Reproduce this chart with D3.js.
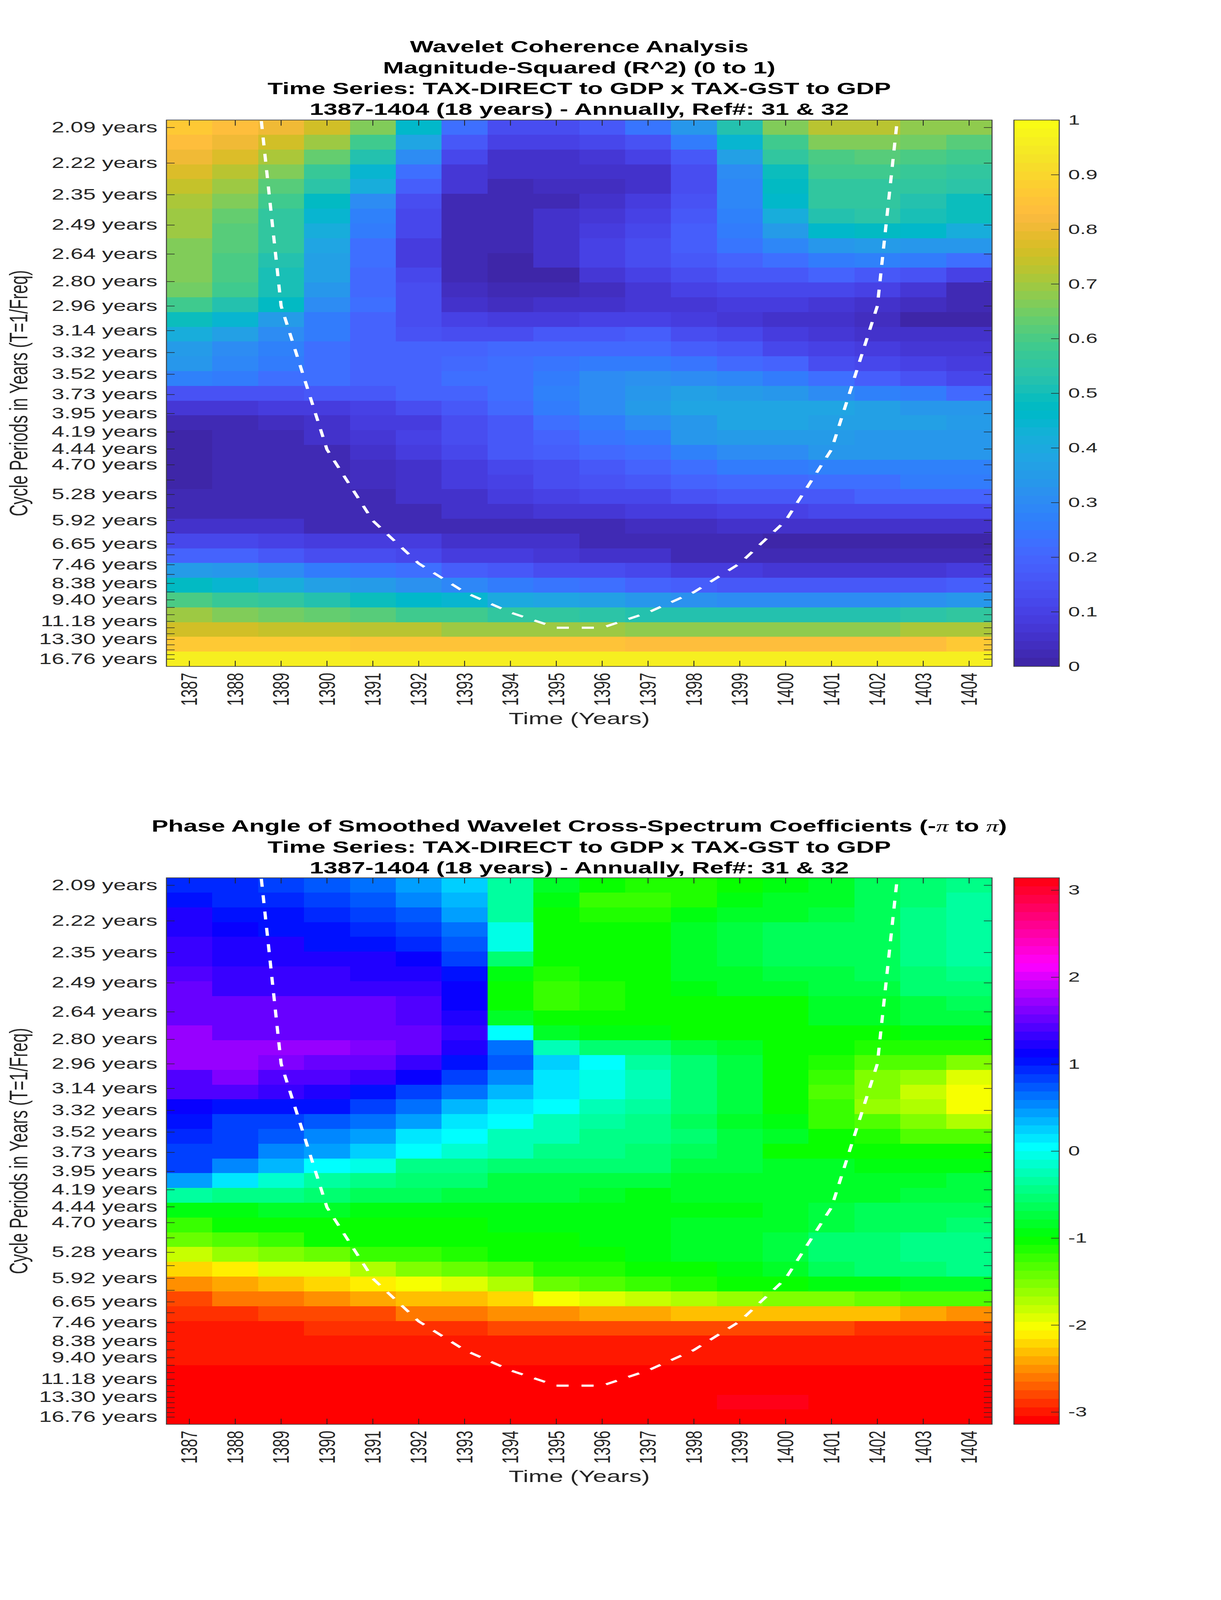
<!DOCTYPE html>
<html>
<head>
<meta charset="utf-8">
<script src="https://cdn.jsdelivr.net/npm/d3@7"></script>
<style>
  html, body { margin: 0; background: #fff; overflow: hidden; }
  /* viewBox fills the window: 1:1 at 3125x6252, vertically squashed in a shorter window so nothing is cut off */
  #chart { display: block; width: 100vw; height: 100vh; }
  text { font-family: "Liberation Sans", Arial, sans-serif; fill: #262626; }
  .title { font-weight: bold; font-size: 64px; fill: #000; text-anchor: middle; }
  .pi { font-family: "Liberation Serif", serif; font-style: italic; font-weight: normal; }
  .axislabel { font-size: 64px; text-anchor: middle; }
  .tick line, .domain { stroke: #262626; }
</style>
</head>
<body>
<svg id="chart" viewBox="0 0 3125 6252" preserveAspectRatio="none"></svg>
<script>
const years = d3.range(1387, 1405)

// one period per image row, blank label means tick only
const periods = [2.09, 2.22, 2.35, 2.49, 2.64, 2.80, 2.96, 3.14, 3.32, 3.52, 3.73, 3.95, 4.19, 4.44, 4.70, 4.98, 5.28, 5.59, 5.92, 6.27, 6.65, 7.05, 7.46, 7.91, 8.38, 8.88, 9.40, 9.96, 10.56, 11.18, 11.85, 12.55, 13.30, 14.09, 14.93, 15.82, 16.76]
const unlabeled = [4.98, 5.59, 6.27, 7.05, 7.91, 8.88, 9.96, 10.56, 11.85, 12.55, 14.09, 14.93, 15.82]

// cone of influence
const coiYears = [1388, 1389, 1390, 1391, 1392, 1393, 1394, 1395, 1396, 1397, 1398, 1399, 1400, 1401, 1402, 1403]
const coiPeriods = [1.48, 2.96, 4.45, 5.93, 7.41, 8.90, 10.38, 11.86, 11.86, 10.38, 8.90, 7.41, 5.93, 4.45, 2.96, 1.48]

const coherence = [
  [.86,.83,.80,.75,.67,.46,.22,.14,.14,.17,.24,.34,.52,.66,.72,.72,.68,.68],
  [.84,.81,.76,.70,.58,.38,.16,.10,.10,.12,.15,.25,.44,.59,.67,.66,.65,.62],
  [.80,.77,.71,.63,.53,.30,.11,.06,.06,.07,.10,.17,.36,.55,.60,.62,.60,.59],
  [.77,.73,.66,.57,.44,.22,.07,.05,.05,.05,.06,.14,.30,.49,.58,.59,.57,.56],
  [.74,.70,.62,.54,.42,.18,.07,.03,.04,.04,.06,.13,.29,.48,.56,.56,.55,.54],
  [.71,.66,.58,.47,.31,.14,.03,.02,.03,.06,.08,.15,.29,.46,.55,.55,.52,.49],
  [.70,.63,.56,.45,.27,.12,.03,.02,.05,.07,.10,.17,.28,.42,.52,.54,.51,.49],
  [.69,.62,.55,.42,.25,.11,.02,.02,.05,.09,.12,.18,.26,.35,.46,.47,.46,.42],
  [.67,.61,.55,.38,.23,.08,.02,.02,.06,.10,.13,.18,.24,.29,.34,.35,.34,.33],
  [.67,.60,.53,.37,.22,.09,.03,.01,.05,.10,.13,.17,.20,.22,.26,.27,.25,.22],
  [.67,.60,.50,.37,.21,.11,.02,.00,.01,.07,.10,.13,.16,.17,.19,.17,.15,.10],
  [.65,.58,.50,.34,.21,.13,.04,.02,.03,.04,.07,.10,.11,.12,.12,.10,.07,.03],
  [.59,.52,.47,.31,.22,.14,.06,.04,.05,.06,.07,.07,.08,.08,.07,.06,.04,.02],
  [.49,.45,.35,.26,.19,.14,.10,.09,.09,.10,.10,.08,.07,.05,.05,.04,.01,.01],
  [.42,.37,.30,.25,.19,.15,.13,.14,.16,.17,.18,.14,.11,.08,.07,.05,.05,.05],
  [.35,.30,.27,.22,.19,.19,.19,.21,.21,.21,.21,.18,.16,.12,.10,.08,.07,.07],
  [.33,.29,.25,.23,.20,.20,.21,.22,.24,.25,.26,.24,.21,.19,.14,.11,.10,.09],
  [.28,.25,.23,.22,.19,.20,.22,.23,.26,.30,.32,.31,.29,.25,.22,.18,.15,.11],
  [.15,.15,.15,.16,.16,.19,.20,.23,.27,.31,.34,.36,.35,.33,.31,.27,.25,.21],
  [.07,.07,.09,.09,.10,.14,.17,.21,.25,.30,.35,.38,.39,.39,.38,.36,.34,.33],
  [.02,.02,.04,.06,.08,.09,.14,.17,.23,.26,.30,.34,.38,.38,.37,.36,.36,.35],
  [.00,.02,.02,.05,.07,.10,.14,.16,.20,.24,.26,.33,.35,.35,.35,.34,.34,.34],
  [.00,.02,.02,.03,.05,.08,.12,.16,.18,.21,.22,.27,.30,.31,.33,.34,.33,.33],
  [.00,.02,.02,.03,.04,.06,.09,.11,.13,.16,.20,.22,.25,.26,.27,.27,.27,.27],
  [.00,.02,.02,.03,.04,.06,.08,.10,.13,.15,.17,.20,.21,.21,.22,.23,.25,.25],
  [.02,.02,.02,.03,.03,.05,.06,.09,.10,.11,.12,.15,.16,.17,.17,.19,.19,.19],
  [.02,.02,.02,.03,.03,.02,.05,.06,.07,.07,.08,.08,.10,.10,.12,.12,.12,.12],
  [.05,.05,.05,.03,.03,.03,.03,.03,.03,.03,.04,.04,.05,.05,.05,.05,.05,.05],
  [.12,.11,.10,.09,.08,.08,.05,.05,.05,.03,.03,.03,.03,.01,.01,.01,.01,.01],
  [.20,.19,.17,.14,.13,.11,.08,.08,.07,.05,.05,.03,.03,.02,.02,.02,.02,.02],
  [.35,.33,.31,.26,.24,.22,.18,.16,.14,.13,.11,.09,.08,.07,.07,.07,.07,.08],
  [.48,.44,.41,.37,.35,.32,.29,.26,.24,.23,.20,.18,.17,.16,.16,.16,.16,.18],
  [.60,.57,.55,.52,.49,.46,.44,.40,.38,.36,.34,.32,.31,.31,.31,.31,.32,.34],
  [.70,.67,.65,.63,.61,.59,.58,.56,.55,.54,.53,.53,.52,.52,.53,.53,.54,.55],
  [.76,.76,.74,.74,.72,.72,.70,.70,.69,.69,.68,.68,.68,.68,.68,.68,.71,.71],
  [.86,.86,.86,.86,.85,.85,.85,.85,.85,.85,.84,.84,.84,.84,.84,.84,.84,.86],
  [.96,.96,.96,.96,.96,.96,.96,.96,.96,.96,.96,.96,.96,.96,.96,.96,.96,.96]
]

const phase = [
  [.90,.92,.82,.72,.60,.42,.20,-.35,-.80,-1.0,-1.1,-1.1,-1.0,-.90,-.80,-.65,-.50,-.40],
  [1.05,.98,.95,.80,.70,.52,.30,-.30,-.90,-1.2,-1.2,-1.1,-.95,-.85,-.80,-.60,-.50,-.37],
  [1.2,1.05,1.02,.98,.82,.70,.45,-.30,-1.0,-1.15,-1.1,-.95,-.85,-.80,-.75,-.60,-.45,-.37],
  [1.2,1.15,1.05,1.05,.98,.82,.63,-.02,-1.0,-1.05,-1.0,-.85,-.75,-.65,-.65,-.60,-.45,-.37],
  [1.3,1.2,1.2,1.05,1.05,.95,.78,-.05,-1.05,-1.05,-1.05,-.80,-.70,-.65,-.65,-.60,-.45,-.37],
  [1.3,1.25,1.2,1.2,1.2,1.15,.85,-.50,-1.05,-1.05,-1.05,-.85,-.70,-.65,-.65,-.60,-.45,-.37],
  [1.4,1.3,1.3,1.3,1.25,1.25,1.05,-.95,-1.15,-1.05,-1.05,-.85,-.80,-.70,-.70,-.65,-.50,-.45],
  [1.5,1.35,1.35,1.35,1.35,1.35,1.1,-1.05,-1.2,-1.15,-1.05,-.90,-.85,-.80,-.75,-.70,-.55,-.50],
  [1.5,1.5,1.5,1.5,1.5,1.45,1.15,-1.05,-1.2,-1.15,-1.05,-1.0,-1.0,-1.0,-.85,-.80,-.70,-.65],
  [1.5,1.55,1.55,1.55,1.55,1.4,1.2,-.85,-1.05,-1.05,-1.05,-1.05,-1.05,-1.05,-.85,-.80,-.75,-.70],
  [1.7,1.55,1.55,1.55,1.55,1.55,1.3,.05,-.85,-.90,-.90,-1.0,-1.05,-1.05,-1.05,-1.0,-.90,-.90],
  [1.7,1.7,1.7,1.7,1.6,1.55,1.25,.65,-.25,-.55,-.55,-.70,-.80,-1.0,-1.05,-1.1,-1.1,-1.1],
  [1.7,1.7,1.65,1.55,1.55,1.3,1.02,.75,.22,.02,-.35,-.55,-.75,-1.0,-1.1,-1.3,-1.35,-1.55],
  [1.45,1.6,1.45,1.45,1.3,1.15,.85,.55,.18,-.02,-.28,-.50,-.70,-1.05,-1.2,-1.5,-1.65,-1.95],
  [1.4,1.4,1.3,1.2,1.02,.85,.65,.35,.12,-.02,-.25,-.55,-.70,-1.0,-1.3,-1.55,-1.85,-2.05],
  [1.1,1.05,1.05,1.0,.80,.62,.33,.15,.00,-.20,-.35,-.55,-.75,-1.05,-1.25,-1.6,-1.75,-2.05],
  [1.05,.85,.82,.70,.60,.42,.17,.00,-.20,-.35,-.40,-.60,-.80,-.95,-1.2,-1.35,-1.55,-1.75],
  [.95,.85,.75,.50,.42,.15,.00,-.20,-.25,-.40,-.45,-.55,-.70,-.85,-1.0,-1.15,-1.3,-1.3],
  [.85,.80,.52,.45,.28,.00,-.15,-.28,-.40,-.45,-.50,-.60,-.70,-1.0,-1.0,-1.05,-1.05,-1.05],
  [.80,.52,.35,.05,-.08,-.40,-.40,-.50,-.50,-.55,-.55,-.75,-.75,-.80,-.85,-.90,-.90,-.90],
  [.40,.12,-.10,-.35,-.45,-.50,-.55,-.70,-.70,-.75,-.75,-.80,-.80,-.85,-.85,-.85,-.85,-.75],
  [-.30,-.40,-.45,-.55,-.60,-.60,-.75,-.75,-.75,-.85,-.90,-.80,-.80,-.80,-.80,-.80,-.70,-.70],
  [-.95,-.90,-.85,-.85,-.95,-.95,-.95,-.95,-.95,-.95,-.95,-.95,-.95,-.80,-.75,-.65,-.65,-.60],
  [-1.2,-1.05,-1.05,-1.05,-1.05,-1.05,-1.05,-.95,-.95,-.95,-.95,-.85,-.80,-.80,-.75,-.60,-.60,-.50],
  [-1.45,-1.3,-1.2,-1.05,-1.05,-1.05,-1.05,-1.05,-1.05,-.95,-.95,-.85,-.80,-.70,-.55,-.55,-.45,-.45],
  [-1.85,-1.65,-1.5,-1.4,-1.25,-1.2,-1.1,-1.05,-1.05,-1.05,-.95,-.85,-.80,-.70,-.55,-.55,-.45,-.45],
  [-2.25,-2.1,-1.95,-1.9,-1.7,-1.55,-1.4,-1.3,-1.1,-1.1,-1.05,-1.05,-.90,-.80,-.65,-.55,-.50,-.45],
  [-2.55,-2.4,-2.3,-2.25,-2.1,-2.0,-1.9,-1.75,-1.45,-1.35,-1.25,-1.15,-1.05,-1.0,-.95,-.90,-.85,-.80],
  [-2.75,-2.6,-2.6,-2.5,-2.4,-2.3,-2.3,-2.25,-2.05,-1.95,-1.85,-1.75,-1.65,-1.55,-1.5,-1.4,-1.35,-1.35],
  [-2.85,-2.85,-2.75,-2.75,-2.75,-2.6,-2.6,-2.5,-2.5,-2.4,-2.4,-2.3,-2.3,-2.3,-2.3,-2.3,-2.4,-2.55],
  [-2.95,-2.95,-2.95,-2.85,-2.85,-2.85,-2.85,-2.75,-2.75,-2.75,-2.75,-2.75,-2.75,-2.75,-2.75,-2.85,-2.85,-2.85],
  [-2.95,-2.95,-2.95,-2.95,-2.95,-2.95,-2.95,-2.95,-2.95,-2.95,-2.95,-2.95,-2.95,-2.95,-2.95,-2.95,-2.95,-2.95],
  [-3.0,-3.0,-3.0,-3.0,-3.0,-3.0,-3.0,-3.0,-3.0,-3.0,-3.0,-3.0,-3.0,-3.0,-3.0,-3.0,-3.0,-3.0],
  [-3.12,-3.12,-3.12,-3.12,-3.12,-3.12,-3.12,-3.12,-3.12,-3.12,-3.12,-3.12,-3.12,-3.12,-3.12,-3.12,-3.12,-3.12],
  [-3.12,-3.12,-3.12,-3.12,-3.12,-3.12,-3.12,-3.12,-3.12,-3.12,-3.12,-3.12,-3.12,-3.12,-3.12,-3.12,-3.12,-3.12],
  [-3.12,-3.12,-3.12,-3.12,-3.12,-3.12,-3.12,-3.12,-3.12,-3.12,-3.12,-3.12,3.12,3.12,-3.12,-3.12,-3.12,-3.12],
  [-3.12,-3.12,-3.12,-3.12,-3.12,-3.12,-3.12,-3.12,-3.12,-3.12,-3.12,-3.12,-3.12,-3.12,-3.12,-3.12,-3.12,-3.12]
]

const coherenceTitle = ["Wavelet Coherence Analysis", "Magnitude-Squared (R^2) (0 to 1)", "Time Series: TAX-DIRECT to GDP x TAX-GST to GDP", "1387-1404 (18 years) - Annually, Ref#: 31 & 32"]
const phaseTitle = ["Phase Angle of Smoothed Wavelet Cross-Spectrum Coefficients (-\u03c0 to \u03c0)", "Time Series: TAX-DIRECT to GDP x TAX-GST to GDP", "1387-1404 (18 years) - Annually, Ref#: 31 & 32"]
const coherenceTicks = d3.range(0, 11).map(d => d / 10)
const phaseTicks = [-3, -2, -1, 0, 1, 2, 3]

// MATLAB parula(64)
const parula = [[.2422,.1504,.6603],[.2504,.1650,.7076],[.2578,.1818,.7511],[.2647,.1978,.7952],[.2706,.2147,.8364],[.2751,.2342,.8710],[.2783,.2559,.8991],[.2803,.2782,.9221],[.2813,.3006,.9414],[.2810,.3228,.9579],[.2795,.3447,.9717],[.2760,.3667,.9829],[.2699,.3892,.9906],[.2602,.4123,.9952],[.2440,.4358,.9988],[.2206,.4603,.9973],[.1963,.4847,.9892],[.1834,.5074,.9798],[.1786,.5289,.9682],[.1764,.5499,.9520],[.1687,.5703,.9359],[.1540,.5902,.9218],[.1460,.6091,.9079],[.1380,.6276,.8973],[.1248,.6459,.8883],[.1113,.6635,.8763],[.0952,.6798,.8598],[.0689,.6948,.8394],[.0297,.7082,.8163],[.0036,.7203,.7917],[.0067,.7312,.7660],[.0433,.7411,.7394],[.0964,.7500,.7120],[.1408,.7584,.6842],[.1717,.7670,.6554],[.1938,.7758,.6251],[.2161,.7843,.5923],[.2470,.7918,.5567],[.2906,.7973,.5188],[.3406,.8008,.4789],[.3909,.8029,.4354],[.4456,.8024,.3909],[.5044,.7993,.3480],[.5616,.7942,.3045],[.6174,.7876,.2612],[.6720,.7793,.2227],[.7242,.7698,.1910],[.7738,.7598,.1646],[.8203,.7498,.1535],[.8634,.7406,.1596],[.9035,.7330,.1774],[.9393,.7288,.2100],[.9728,.7298,.2394],[.9956,.7434,.2371],[.9970,.7659,.2199],[.9952,.7893,.2028],[.9892,.8136,.1885],[.9786,.8386,.1766],[.9676,.8639,.1643],[.9610,.8890,.1537],[.9597,.9135,.1423],[.9628,.9373,.1265],[.9691,.9606,.1064],[.9769,.9839,.0805]]
  .map(c => d3.rgb(c[0] * 255, c[1] * 255, c[2] * 255).formatHex())
// MATLAB hsv(64)
const hsv64 = d3.range(64).map(i => d3.hsl(i / 64 * 360, 1, 0.5).formatHex())

const left = 426, right = 2539, cbLeft = 2595, cbRight = 2711
const svg = d3.select("#chart")

function drawPanel(id, top, bottom, titleLines, titleY, values, colors, domain, cbTicks, cbFormat) {
  const g = svg.append("g")
  const color = d3.scaleQuantize().domain(domain).range(colors)

  const x = d3.scaleBand().domain(years).range([left, right])
  const row = d3.scaleBand().domain(periods).range([top, bottom])
  // ticks sit on a linear frequency scale, the image rows are evenly spaced
  const y = d3.scaleLinear()
    .domain([1 / periods[0], 1 / periods[periods.length - 1]])
    .range([row(periods[0]) + row.bandwidth() / 2, row(periods[periods.length - 1]) + row.bandwidth() / 2])
  const xc = d => x(d) + x.bandwidth() / 2

  // Title
  g.selectAll(".title").data(titleLines).enter().append("text")
    .attr("class", "title")
    .attr("x", (left + right) / 2)
    .attr("y", (d, i) => titleY + i * 81.5)
    .each(function (d) {
      const el = d3.select(this)
      d.split(/(\u03c0)/).forEach(part => {
        el.append("tspan").attr("class", part === "\u03c0" ? "pi" : null).text(part)
      })
    })

  // Cells
  periods.forEach((p, i) => {
    g.append("g").attr("shape-rendering", "crispEdges")
      .selectAll("rect").data(values[i]).enter().append("rect")
      .attr("x", (d, j) => x(years[j]))
      .attr("y", row(p))
      .attr("width", x.bandwidth() + 0.5)
      .attr("height", row.bandwidth() + 0.5)
      .attr("fill", d => color(d))
  })

  // Cone of influence
  g.append("clipPath").attr("id", id)
    .append("rect").attr("x", left).attr("y", top).attr("width", right - left).attr("height", bottom - top)
  const coi = d3.line().x(d => xc(d[0])).y(d => y(1 / d[1]))
  g.append("path")
    .datum(coiYears.map((d, i) => [d, coiPeriods[i]]))
    .attr("d", coi)
    .attr("clip-path", `url(#${id})`)
    .attr("fill", "none")
    .attr("stroke", "#fff")
    .attr("stroke-width", 8.3)
    .attr("stroke-dasharray", "31 33")
    .attr("stroke-dashoffset", 4)

  // Axes, ticks point inwards on all four sides
  const xAxis = d3.axisBottom(x).tickSize(-22).tickPadding(25)
  const xg = g.append("g").attr("transform", `translate(0,${bottom})`).call(xAxis)
  xg.selectAll("text")
    .attr("transform", "rotate(-90)")
    .attr("x", -25).attr("y", 0).attr("dy", "0.34em")
    .attr("text-anchor", "end")
    .attr("font-size", 58)
  g.append("g").attr("transform", `translate(0,${top})`)
    .call(d3.axisTop(x).tickSize(-22).tickFormat(""))

  const yAxis = d3.axisLeft(y).tickValues(periods.map(p => 1 / p)).tickSize(-21).tickPadding(23)
    .tickFormat((d, i) => unlabeled.includes(periods[i]) ? "" : periods[i].toFixed(2) + " years")
  g.append("g").attr("transform", `translate(${left},0)`).call(yAxis)
    .selectAll("text").attr("font-size", 58)
  g.append("g").attr("transform", `translate(${right},0)`)
    .call(d3.axisRight(y).tickValues(periods.map(p => 1 / p)).tickSize(-21).tickFormat(""))

  g.selectAll(".domain").remove()
  g.append("rect").attr("x", left).attr("y", top).attr("width", right - left).attr("height", bottom - top)
    .attr("fill", "none").attr("stroke", "#404040").attr("stroke-width", 2.6)
  g.selectAll(".tick line").attr("stroke-width", 2.2)

  // Axis labels
  g.append("text").attr("class", "axislabel")
    .attr("x", (left + right) / 2).attr("y", bottom + 226)
    .text("Time (Years)")
  g.append("text").attr("class", "axislabel")
    .attr("transform", `translate(70,${(top + bottom) / 2}) rotate(-90)`)
    .text("Cycle Periods in Years (T=1/Freq)")

  // Colorbar
  const band = d3.scaleBand().domain(d3.range(colors.length).reverse()).range([top, bottom])
  g.append("g").attr("shape-rendering", "crispEdges")
    .selectAll("rect").data(colors).enter().append("rect")
    .attr("x", cbLeft).attr("width", cbRight - cbLeft)
    .attr("y", (d, i) => band(i)).attr("height", band.bandwidth() + 0.5)
    .attr("fill", d => d)
  const cb = d3.scaleLinear().domain(domain).range([bottom, top])
  const cbAxis = d3.axisRight(cb).tickValues(cbTicks).tickSize(-21).tickPadding(23).tickFormat(cbFormat)
  const cbg = g.append("g").attr("transform", `translate(${cbRight},0)`).call(cbAxis)
  cbg.select(".domain").remove()
  cbg.selectAll("text").attr("font-size", 54)
  cbg.selectAll(".tick line").attr("stroke-width", 2.2)
  g.append("rect").attr("x", cbLeft).attr("y", top).attr("width", cbRight - cbLeft).attr("height", bottom - top)
    .attr("fill", "none").attr("stroke", "#404040").attr("stroke-width", 2.6)
}

drawPanel("clipCoherence", 469, 2604, coherenceTitle, 205, coherence, parula, [0, 1], coherenceTicks, d => String(d))
drawPanel("clipPhase", 3430, 5565.5, phaseTitle, 3250, phase, hsv64, [-Math.PI, Math.PI], phaseTicks, d => String(d))
</script>
</body>
</html>
